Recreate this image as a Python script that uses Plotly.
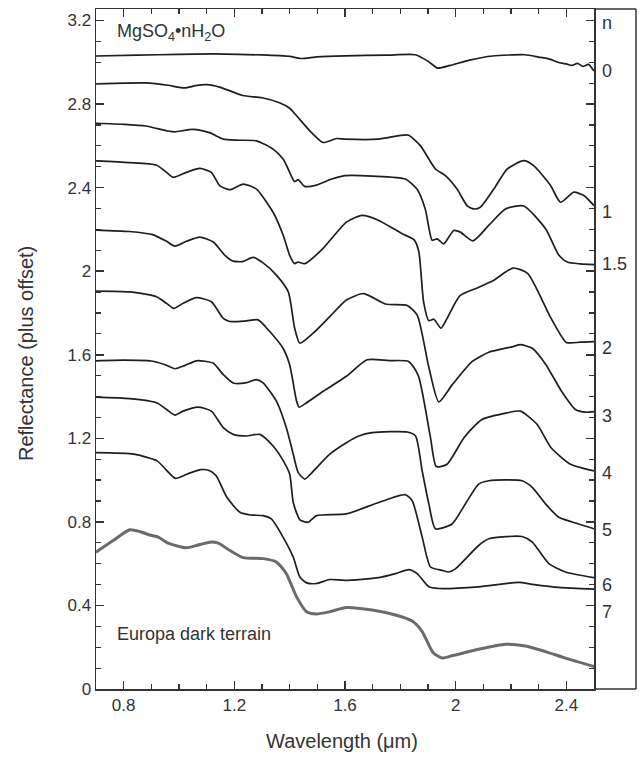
import plotly.graph_objects as go

# ---- data (wavelength in micrometres, reflectance plus offset) ----
wl_n0 = [0.70, 0.85, 1.00, 1.125, 1.30, 1.40, 1.44, 1.50, 1.60, 1.75, 1.855, 1.90, 1.935, 1.98, 2.05, 2.133,
         2.25, 2.30, 2.34, 2.37, 2.40, 2.42, 2.44, 2.46, 2.48, 2.50]
r_n0 = [3.030, 3.034, 3.038, 3.040, 3.035, 3.028, 3.018, 3.026, 3.031, 3.034, 3.036, 3.005, 2.972, 2.985, 3.010, 3.030,
        3.036, 3.025, 3.015, 3.000, 2.992, 2.985, 2.995, 2.980, 2.990, 2.958]

wl_n1 = [0.70, 0.80, 0.88, 0.96, 1.02, 1.06, 1.10, 1.15, 1.23, 1.30, 1.363, 1.40, 1.425, 1.472, 1.521, 1.569,
         1.60, 1.72, 1.80, 1.83, 1.873, 1.927, 1.963, 2.005, 2.041, 2.065, 2.089, 2.138, 2.186, 2.246, 2.282,
         2.343, 2.379, 2.427, 2.463, 2.50]
r_n1 = [2.897, 2.900, 2.901, 2.890, 2.877, 2.888, 2.893, 2.880, 2.841, 2.830, 2.806, 2.780, 2.744, 2.673, 2.616, 2.635,
        2.632, 2.632, 2.650, 2.651, 2.600, 2.489, 2.457, 2.393, 2.314, 2.298, 2.306, 2.393, 2.489, 2.529, 2.505,
        2.410, 2.330, 2.378, 2.362, 2.314]

wl_n15 = [0.70, 0.80, 0.88, 0.96, 0.984, 1.051, 1.11, 1.16, 1.208, 1.28, 1.34, 1.377, 1.40, 1.418, 1.431, 1.454,
          1.497, 1.55, 1.60, 1.70, 1.818, 1.86, 1.89, 1.915, 1.933, 1.957, 1.993, 2.017, 2.062, 2.12, 2.18, 2.246,
          2.325, 2.373, 2.403, 2.45, 2.50]
r_n15 = [2.708, 2.703, 2.695, 2.671, 2.667, 2.679, 2.663, 2.632, 2.627, 2.624, 2.584, 2.536, 2.473, 2.429, 2.438, 2.406,
         2.412, 2.440, 2.457, 2.455, 2.441, 2.393, 2.298, 2.148, 2.155, 2.131, 2.195, 2.187, 2.145, 2.220, 2.298, 2.312,
         2.203, 2.076, 2.044, 2.035, 2.031]

wl_n2 = [0.70, 0.82, 0.918, 0.955, 0.979, 1.027, 1.075, 1.117, 1.147, 1.184, 1.232, 1.28, 1.34, 1.377, 1.40, 1.418,
         1.43, 1.455, 1.52, 1.605, 1.662, 1.722, 1.807, 1.85, 1.867, 1.884, 1.903, 1.921, 1.947, 1.969, 2.015,
         2.080, 2.138, 2.207, 2.26, 2.345, 2.400, 2.45, 2.50]
r_n2 = [2.528, 2.520, 2.508, 2.473, 2.449, 2.473, 2.492, 2.473, 2.410, 2.390, 2.417, 2.393, 2.282, 2.171, 2.076, 2.036,
        2.044, 2.036, 2.108, 2.235, 2.267, 2.243, 2.179, 2.150, 2.092, 1.854, 1.763, 1.770, 1.727, 1.774, 1.882,
        1.921, 1.957, 2.015, 1.990, 1.774, 1.659, 1.660, 1.663]

wl_n3 = [0.70, 0.82, 0.907, 0.955, 0.985, 1.027, 1.075, 1.124, 1.166, 1.196, 1.23, 1.268, 1.304, 1.352, 1.395, 1.418,
         1.437, 1.485, 1.545, 1.605, 1.668, 1.746, 1.825, 1.861, 1.903, 1.939, 1.988, 2.06, 2.12, 2.204, 2.234,
         2.277, 2.325, 2.385, 2.433, 2.47, 2.50]
r_n3 = [2.197, 2.190, 2.174, 2.143, 2.120, 2.143, 2.163, 2.140, 2.076, 2.048, 2.046, 2.066, 2.040, 1.981, 1.901, 1.727,
        1.655, 1.703, 1.782, 1.862, 1.893, 1.843, 1.836, 1.790, 1.540, 1.374, 1.457, 1.568, 1.612, 1.638, 1.648,
        1.631, 1.555, 1.420, 1.338, 1.325, 1.328]

wl_n4 = [0.70, 0.822, 0.919, 0.955, 0.981, 1.015, 1.063, 1.117, 1.16, 1.184, 1.244, 1.286, 1.328, 1.376, 1.40, 1.425,
         1.434, 1.461, 1.521, 1.605, 1.68, 1.76, 1.83, 1.865, 1.909, 1.930, 1.969, 2.03, 2.095, 2.186, 2.234,
         2.294, 2.345, 2.415, 2.50]
r_n4 = [1.905, 1.901, 1.878, 1.846, 1.822, 1.846, 1.873, 1.854, 1.774, 1.759, 1.762, 1.767, 1.711, 1.631, 1.552, 1.378,
        1.349, 1.370, 1.425, 1.497, 1.576, 1.572, 1.568, 1.500, 1.203, 1.065, 1.076, 1.203, 1.290, 1.322, 1.330,
        1.267, 1.155, 1.076, 1.044]

wl_n5 = [0.70, 0.80, 0.90, 0.95, 0.985, 1.02, 1.063, 1.123, 1.16, 1.196, 1.24, 1.28, 1.304, 1.352, 1.388, 1.413,
         1.431, 1.455, 1.480, 1.545, 1.605, 1.65, 1.698, 1.825, 1.855, 1.879, 1.903, 1.927, 1.987, 2.035, 2.083,
         2.12, 2.24, 2.277, 2.325, 2.373, 2.445, 2.50]
r_n5 = [1.571, 1.574, 1.570, 1.552, 1.533, 1.548, 1.571, 1.560, 1.505, 1.465, 1.465, 1.481, 1.465, 1.378, 1.251, 1.124,
        1.036, 1.005, 1.035, 1.124, 1.179, 1.211, 1.227, 1.230, 1.211, 1.044, 0.886, 0.767, 0.790, 0.886, 0.981,
        0.997, 0.997, 0.965, 0.886, 0.822, 0.790, 0.767]

wl_n6 = [0.70, 0.822, 0.919, 0.955, 0.985, 1.015, 1.069, 1.117, 1.16, 1.196, 1.244, 1.292, 1.34, 1.377, 1.40, 1.413,
         1.437, 1.467, 1.497, 1.605, 1.722, 1.818, 1.843, 1.879, 1.909, 1.951, 1.975, 2.00, 2.083, 2.12, 2.24,
         2.277, 2.337, 2.397, 2.50]
r_n6 = [1.397, 1.390, 1.370, 1.338, 1.311, 1.330, 1.349, 1.330, 1.251, 1.219, 1.211, 1.219, 1.163, 1.092, 1.029, 0.893,
        0.810, 0.798, 0.830, 0.838, 0.893, 0.930, 0.901, 0.727, 0.584, 0.568, 0.560, 0.576, 0.687, 0.719, 0.730,
        0.703, 0.600, 0.560, 0.533]

wl_n7 = [0.70, 0.837, 0.921, 0.957, 0.987, 1.03, 1.078, 1.111, 1.135, 1.172, 1.22, 1.26, 1.304, 1.334, 1.376, 1.413,
         1.437, 1.461, 1.497, 1.545, 1.60, 1.722, 1.782, 1.83, 1.861, 1.903, 1.939, 2.083, 2.228, 2.277, 2.373, 2.50]
r_n7 = [1.131, 1.124, 1.092, 1.044, 1.008, 1.029, 1.050, 1.045, 1.020, 0.920, 0.846, 0.833, 0.830, 0.814, 0.727, 0.631,
        0.536, 0.508, 0.505, 0.524, 0.520, 0.533, 0.552, 0.571, 0.552, 0.489, 0.481, 0.489, 0.510, 0.501, 0.486, 0.478]

wl_europa = [0.70, 0.762, 0.822, 0.858, 0.894, 0.925, 0.961, 1.027, 1.063, 1.111, 1.142, 1.184, 1.232, 1.304, 1.352,
             1.388, 1.425, 1.461, 1.497, 1.545, 1.605, 1.698, 1.782, 1.843, 1.879, 1.918, 1.951, 1.990, 2.083, 2.18,
             2.252, 2.325, 2.397, 2.50]
r_europa = [0.655, 0.711, 0.762, 0.754, 0.737, 0.727, 0.698, 0.676, 0.687, 0.703, 0.698, 0.663, 0.629, 0.624, 0.608,
            0.552, 0.441, 0.370, 0.359, 0.370, 0.390, 0.378, 0.354, 0.325, 0.275, 0.175, 0.148, 0.160, 0.190, 0.214,
            0.206, 0.179, 0.148, 0.108]

mineral_series = [(wl_n0, r_n0), (wl_n1, r_n1), (wl_n15, r_n15), (wl_n2, r_n2), (wl_n3, r_n3),
                  (wl_n4, r_n4), (wl_n5, r_n5), (wl_n6, r_n6), (wl_n7, r_n7)]

n_labels = ["n", "0", "1", "1.5", "2", "3", "4", "5", "6", "7"]
n_label_y = [3.187, 2.959, 2.282, 2.035, 1.630, 1.306, 1.035, 0.759, 0.497, 0.368]

title_text = "MgSO<sub>4</sub>•nH<sub>2</sub>O"
europa_text = "Europa dark terrain"
x_title = "Wavelength (μm)"
y_title = "Reflectance (plus offset)"

# ---- figure ----
FONT = "Arial, Liberation Sans, sans-serif"
AX = "#333333"
fig = go.Figure()
for wl, r in mineral_series:
    fig.add_trace(go.Scatter(x=wl, y=r, mode="lines",
                             line=dict(color="#1e1e1e", width=1.7, shape="spline", smoothing=0.6),
                             showlegend=False, hoverinfo="skip"))
fig.add_trace(go.Scatter(x=wl_europa, y=r_europa, mode="lines",
                         line=dict(color="#6b6b6b", width=3, shape="spline", smoothing=0.6),
                         showlegend=False, hoverinfo="skip"))

axis_common = dict(showline=True, linecolor=AX, linewidth=1.5, mirror="ticks", ticks="inside",
                   ticklen=8, tickwidth=1.5, tickcolor=AX, showgrid=False, zeroline=False,
                   automargin=False, tickfont=dict(family=FONT, size=17, color="#333"))
fig.update_xaxes(range=[0.7, 2.5], tick0=0.8, dtick=0.4,
                 minor=dict(dtick=0.1, tick0=0.7, ticks="inside", ticklen=5, tickwidth=1.2, tickcolor=AX),
                 **axis_common)
fig.update_yaxes(range=[0, 3.255], tick0=0, dtick=0.4,
                 minor=dict(dtick=0.1, tick0=0, ticks="inside", ticklen=5, tickwidth=1.2, tickcolor=AX),
                 **axis_common)

ann = []
ann.append(dict(text=x_title, xref="paper", yref="paper", x=0.494, y=-0.0765, showarrow=False,
                xanchor="center", yanchor="middle", font=dict(family=FONT, size=20, color="#333")))
ann.append(dict(text=y_title, xref="paper", yref="paper", x=-0.1407, y=0.494, showarrow=False, textangle=-90,
                xanchor="center", yanchor="middle", font=dict(family=FONT, size=20, color="#333")))
ann.append(dict(text=title_text, xref="paper", yref="paper", x=0.038, y=0.966, showarrow=False,
                xanchor="left", yanchor="middle", font=dict(family=FONT, size=18, color="#333")))
ann.append(dict(text=europa_text, xref="paper", yref="paper", x=0.038, y=0.081, showarrow=False,
                xanchor="left", yanchor="middle", font=dict(family=FONT, size=18, color="#333")))
for t, yv in zip(n_labels, n_label_y):
    ann.append(dict(text=t, xref="paper", yref="y", x=1.013, y=yv, showarrow=False,
                    xanchor="left", yanchor="middle", font=dict(family=FONT, size=18, color="#333")))

xr = (636 - 96) / 498.0
shapes = [
    dict(type="line", xref="paper", yref="paper", x0=1, x1=xr, y0=1, y1=1, line=dict(color=AX, width=1.5)),
    dict(type="line", xref="paper", yref="paper", x0=1, x1=xr, y0=0, y1=0, line=dict(color=AX, width=1.5)),
    dict(type="line", xref="paper", yref="paper", x0=xr, x1=xr, y0=0, y1=1, line=dict(color=AX, width=1.5)),
]

fig.update_layout(width=639, height=758, margin=dict(l=96, r=45, t=9, b=69, autoexpand=False),
                  paper_bgcolor="white", plot_bgcolor="white",
                  annotations=ann, shapes=shapes, font=dict(family=FONT))
fig.write_html("out.html", config={"displayModeBar": False, "staticPlot": True},
               post_script="document.body.style.margin='0';document.body.style.overflow='hidden';")
